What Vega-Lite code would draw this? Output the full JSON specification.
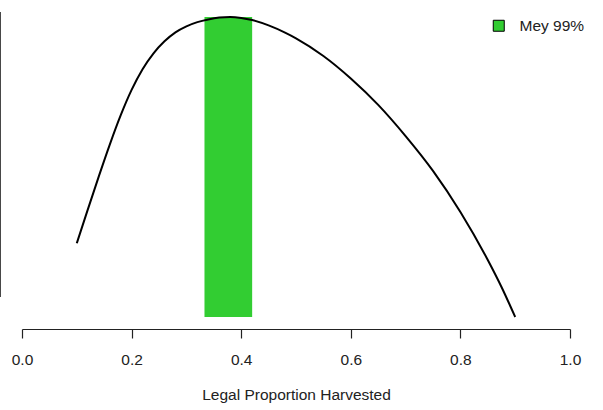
{
  "$schema": "https://vega.github.io/schema/vega-lite/v6.json",
  "width": 548,
  "height": 324,
  "autosize": {"type": "none"},
  "padding": {"left": 22, "top": 5, "right": 33, "bottom": 81},
  "background": "white",
  "config": {
    "view": {"stroke": null},
    "font": "Liberation Sans"
  },
  "datasets": {
    "yieldCurve": [
      {"harvest": 0.10, "yield": 0.246},
      {"harvest": 0.12, "yield": 0.358},
      {"harvest": 0.14, "yield": 0.468},
      {"harvest": 0.16, "yield": 0.574},
      {"harvest": 0.18, "yield": 0.672},
      {"harvest": 0.20, "yield": 0.757},
      {"harvest": 0.22, "yield": 0.826},
      {"harvest": 0.24, "yield": 0.879},
      {"harvest": 0.26, "yield": 0.919},
      {"harvest": 0.28, "yield": 0.949},
      {"harvest": 0.30, "yield": 0.969},
      {"harvest": 0.32, "yield": 0.983},
      {"harvest": 0.34, "yield": 0.992},
      {"harvest": 0.36, "yield": 0.998},
      {"harvest": 0.38, "yield": 1.0},
      {"harvest": 0.40, "yield": 0.997},
      {"harvest": 0.42, "yield": 0.99},
      {"harvest": 0.45, "yield": 0.972},
      {"harvest": 0.48, "yield": 0.948},
      {"harvest": 0.50, "yield": 0.929},
      {"harvest": 0.55, "yield": 0.87},
      {"harvest": 0.60, "yield": 0.795},
      {"harvest": 0.65, "yield": 0.707},
      {"harvest": 0.70, "yield": 0.603},
      {"harvest": 0.75, "yield": 0.487},
      {"harvest": 0.80, "yield": 0.35},
      {"harvest": 0.85, "yield": 0.19},
      {"harvest": 0.875, "yield": 0.10},
      {"harvest": 0.90, "yield": 0.0}
    ],
    "meyBand": [
      {"lo": 0.333, "hi": 0.42, "bottom": 0.0, "top": 1.0, "band": "Mey 99%"}
    ],
    "yAxisLine": [
      {"harvest": -0.04, "from": 0.067, "to": 1.017}
    ]
  },
  "layer": [
    {
      "data": {"name": "meyBand"},
      "mark": {"type": "rect"},
      "encoding": {
        "x": {
          "field": "lo",
          "type": "quantitative",
          "scale": {"domain": [0, 1], "nice": false, "zero": false},
          "axis": {
            "title": "Legal Proportion Harvested",
            "values": [0, 0.2, 0.4, 0.6, 0.8, 1.0],
            "format": ".1f",
            "grid": false,
            "labelFlush": false,
            "labelOverlap": false,
            "domainColor": "#222222",
            "domainWidth": 1.2,
            "tickColor": "#222222",
            "tickWidth": 1.2,
            "tickSize": 9,
            "labelFontSize": 15.5,
            "labelColor": "#222222",
            "labelPadding": 14,
            "labelFont": "Liberation Sans",
            "titleFont": "Liberation Sans",
            "titleFontSize": 15.5,
            "titleFontWeight": "normal",
            "titleColor": "#222222",
            "titlePadding": 20
          }
        },
        "x2": {"field": "hi"},
        "y": {
          "field": "bottom",
          "type": "quantitative",
          "scale": {"domain": [-0.04, 1.04], "nice": false, "zero": false},
          "axis": null
        },
        "y2": {"field": "top"},
        "color": {
          "field": "band",
          "type": "nominal",
          "scale": {"range": ["#32CD32"]},
          "legend": {
            "title": null,
            "orient": "none",
            "legendX": 469,
            "legendY": 13,
            "symbolType": "square",
            "symbolSize": 121,
            "symbolStrokeColor": "black",
            "symbolStrokeWidth": 1,
            "labelFontSize": 15.5,
            "labelFont": "Liberation Sans",
            "labelColor": "#222222",
            "labelOffset": 13
          }
        }
      }
    },
    {
      "data": {"name": "yieldCurve"},
      "mark": {"type": "line", "color": "black", "strokeWidth": 2, "interpolate": "monotone"},
      "encoding": {
        "x": {"field": "harvest", "type": "quantitative"},
        "y": {"field": "yield", "type": "quantitative"}
      }
    },
    {
      "data": {"name": "yAxisLine"},
      "mark": {"type": "rule", "color": "#222222", "strokeWidth": 1.5},
      "encoding": {
        "x": {"field": "harvest", "type": "quantitative"},
        "y": {"field": "from", "type": "quantitative"},
        "y2": {"field": "to"}
      }
    }
  ]
}
